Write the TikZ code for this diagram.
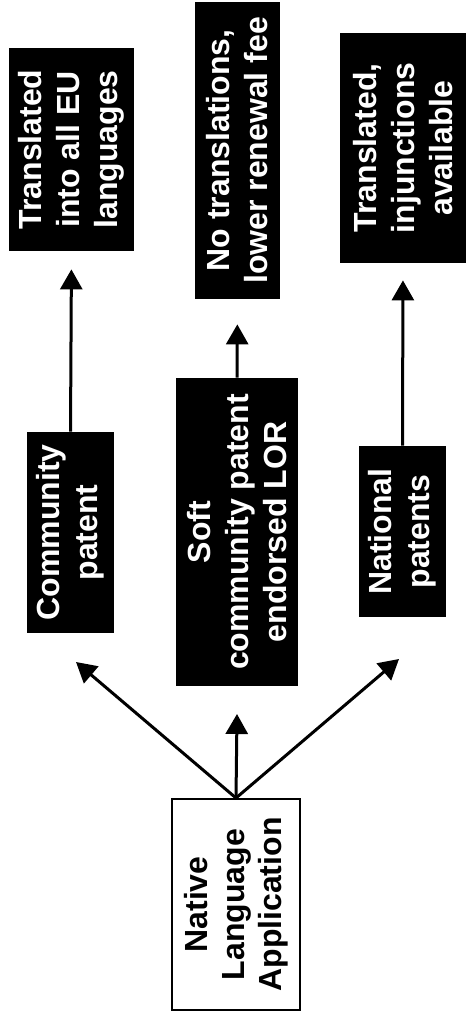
\documentclass[tikz,border=0pt]{standalone}
\usepackage{fontspec}
\setmainfont{Liberation Sans}
\usetikzlibrary{arrows.meta}
\tikzset{darkbox/.style={rotate=90,fill=black,text=white,align=center,inner sep=2pt,
   font=\fontsize{16}{19}\selectfont\bfseries},
 appbox/.style={rotate=90,draw=black,line width=1pt,fill=white,align=center,inner sep=2pt,
   font=\fontsize{16}{18.5}\selectfont\bfseries},
 arr/.style={line width=1.5pt,-{Triangle[length=10pt,width=11pt]}},
 every picture/.style={line join=miter}}

\begin{document}
\begin{tikzpicture}[x=0.5pt,y=-0.5pt]
\fill[white] (0,0) rectangle (467,1015);
\useasboundingbox (0,0) rectangle (467,1015);
\node[appbox,minimum width=105.5pt,minimum height=64pt] (nat) at (236,904.5) {Native\\Language\\Application};
\node[darkbox,minimum width=100.5pt,minimum height=43.5pt] (comm) at (70.5,532.5) {Community\\patent};
\node[darkbox,minimum width=154pt,minimum height=61pt] (soft) at (237,532) {Soft\\community patent\\endorsed LOR};
\node[darkbox,minimum width=85.5pt,minimum height=43.5pt] (natl) at (402.5,531.5) {National\\patents};
\node[darkbox,minimum width=101.5pt,minimum height=62.5pt] (euall) at (71.5,149.5) {Translated\\into all EU\\languages};
\node[darkbox,minimum width=148.5pt,minimum height=42.5pt] (notr) at (237.5,150.5) {No translations,\\lower renewal fee};
\node[darkbox,minimum width=115pt,minimum height=63pt] (inj) at (403,148) {Translated,\\injunctions\\available};
\coordinate (tipL) at (76,662);
\coordinate (tipM) at (237,714);
\coordinate (tipR) at (399,659);
\draw[arr] (nat.east) -- (tipL);
\draw[arr] (nat.east) -- (tipM);
\draw[arr] (nat.east) -- (tipR);
\draw[arr,shorten >=9pt] (comm.east) -- (euall.west);
\draw[arr,shorten >=12.5pt] (soft.east) -- (notr.west);
\draw[arr,shorten >=8.5pt] (natl.east) -- (inj.west);
\end{tikzpicture}
\end{document}
